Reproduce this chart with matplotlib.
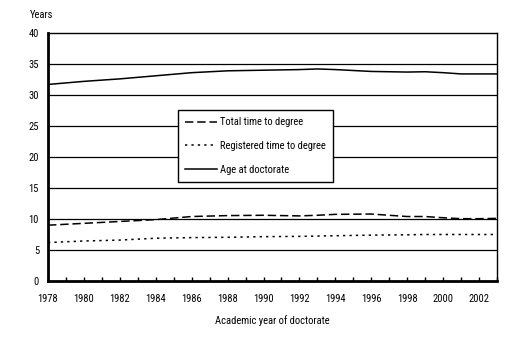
import numpy as np
import matplotlib.pyplot as plt

plt.rcParams['font.family'] = ['Roboto Condensed', 'Liberation Sans', 'DejaVu Sans']

# Academic year of doctorate
years = [1978, 1980, 1982, 1984, 1986, 1988, 1990, 1992, 1993, 1994,
         1996, 1998, 1999, 2000, 2001, 2002, 2003]

# median values, years
total_time = [9.0, 9.3, 9.6, 9.9, 10.4, 10.55, 10.6, 10.5, 10.6, 10.75,
              10.8, 10.4, 10.4, 10.2, 10.05, 10.05, 10.1]
registered_time = [6.2, 6.45, 6.6, 6.9, 7.0, 7.05, 7.15, 7.2, 7.25, 7.3,
                   7.4, 7.45, 7.5, 7.5, 7.5, 7.5, 7.5]
age_at_doctorate = [31.7, 32.2, 32.6, 33.1, 33.6, 33.9, 34.0, 34.1, 34.2, 34.1,
                    33.8, 33.7, 33.75, 33.6, 33.4, 33.4, 33.4]

xticks = list(range(1978, 2003, 2))
yticks = list(range(0, 41, 5))
fs = 7.6

fig = plt.figure(figsize=(5.26, 3.44), dpi=100)
ax = fig.add_axes([48/526, 1 - 281/344, (497-48)/526, (281-33)/344])

# horizontal grid lines
for y in yticks[1:-1]:
    ax.axhline(y, color='black', lw=0.9, zorder=1)

ax.plot(years, total_time, color='black', lw=1.1, dashes=(5.5, 2.5), label='Total time to degree', zorder=3)
ax.plot(years, registered_time, color='black', lw=1.1, dashes=(1.5, 2.7), label='Registered time to degree', zorder=3)
ax.plot(years, age_at_doctorate, color='black', lw=1.1, label='Age at doctorate', zorder=3)

ax.set_xlim(1978, 2003)
ax.set_ylim(0, 40)
ax.set_xticks(xticks)
ax.set_xticks(range(1979, 2004), minor=True)
ax.set_yticks(yticks)
ax.tick_params(axis='x', which='both', direction='in', length=3, width=1, labelsize=fs, pad=9)
ax.tick_params(axis='y', length=0, labelsize=fs, pad=6.5)

for side in ['left', 'bottom']:
    ax.spines[side].set_linewidth(2)
for side in ['top', 'right']:
    ax.spines[side].set_linewidth(1)

fig.text(30/526, 1 - 15/344, 'Years', ha='left', va='center', fontsize=fs)
ax.set_xlabel('Academic year of doctorate', fontsize=fs, labelpad=8)

leg = ax.legend(loc='upper left', bbox_to_anchor=((178-48)/449, (281-110)/248),
                fontsize=fs, frameon=True, fancybox=False, handlelength=3.0,
                labelspacing=1.3, borderpad=0.7, handletextpad=0.3, borderaxespad=0)
leg.get_frame().set_edgecolor('black')
leg.get_frame().set_linewidth(1)
leg.get_frame().set_alpha(1)

fig.savefig('out.png', dpi=100)
